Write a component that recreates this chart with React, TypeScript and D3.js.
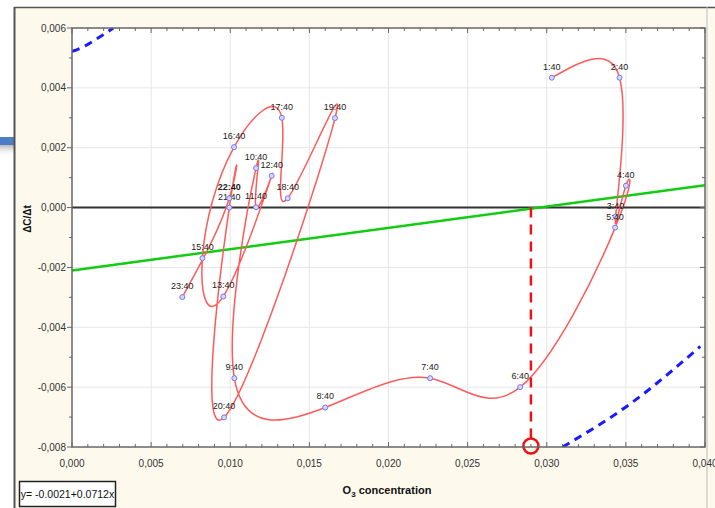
import * as d3 from 'd3';

// trajectory (hourly samples), O3 concentration vs dC/dt
const times = ['1:40', '2:40', '3:40', '4:40', '5:40', '6:40', '7:40', '8:40', '9:40', '10:40', '11:40', '12:40',
  '13:40', '15:40', '16:40', '17:40', '18:40', '19:40', '20:40', '21:40', '22:40', '23:40'];
const conc = [0.03032, 0.0346, 0.03435, 0.035, 0.03432, 0.02832, 0.02263, 0.016, 0.01026, 0.01163, 0.01163, 0.01262,
  0.00956, 0.00824, 0.01024, 0.01326, 0.01363, 0.01662, 0.00961, 0.00994, 0.00994, 0.00697];
const rate = [0.00434, 0.00434, -0.0003, 0.00073, -0.00067, -0.006, -0.0057, -0.00668, -0.0057, 0.00132, 0.00001, 0.00106,
  -0.00297, -0.00169, 0.00202, 0.003, 0.00031, 0.00299, -0.00701, 0.0, 0.00031, -0.00299];

// confidence band pieces (blue dashed)
const bandTopX = [0.0, 0.0003, 0.00177, 0.00261];
const bandTopY = [0.00522, 0.00527, 0.00571, 0.006];
const bandBotX = [0.031, 0.03527, 0.0397];
const bandBotY = [-0.008, -0.00656, -0.00464];

// regression y = a + b x
const intercept = -0.0021;
const slope = 0.0712;
const crossX = 0.029;

const xTicks = [0, 0.005, 0.01, 0.015, 0.02, 0.025, 0.03, 0.035, 0.04];
const yTicks = [-0.008, -0.006, -0.004, -0.002, 0, 0.002, 0.004, 0.006];

const W = 715;
const H = 508;

export default function App() {
  const x = d3.scaleLinear().domain([0, 0.04]).range([72, 705]);
  const y = d3.scaleLinear().domain([-0.008, 0.006]).range([447, 28]);
  const fmt = (v: number) => d3.format('.3f')(v).replace('.', ',').replace('−', '-');

  const pts = conc.map((c, i) => [x(c), y(rate[i])] as [number, number]);
  const traj = d3.line().curve(d3.curveNatural)(pts) || '';
  const band = d3.line().curve(d3.curveMonotoneX);
  const top = band(bandTopX.map((v, i) => [x(v), y(bandTopY[i])] as [number, number])) || '';
  const bot = band(bandBotX.map((v, i) => [x(v), y(bandBotY[i])] as [number, number])) || '';

  const minorX = d3.range(0, 41).map(i => i * 0.001);
  const minorY = d3.range(-8, 7).map(i => i * 0.001);
  const [x0, x1] = x.range();
  const [y0, y1] = y.range();
  const font = 'Liberation Sans, Arial, sans-serif';

  return (
    <svg width={W} height={H} style={{ position: 'absolute', left: 0, top: 0 }} fontFamily={font}>
      <defs>
        <linearGradient id="shadow" x1="0" y1="0" x2="0" y2="1">
          <stop offset="0%" stopColor="#888" stopOpacity={0.6} />
          <stop offset="100%" stopColor="#fff" stopOpacity={0} />
        </linearGradient>
        <clipPath id="plot">
          <rect x={x0} y={y1} width={x1 - x0} height={y0 - y1} />
        </clipPath>
      </defs>
      <rect width={W} height={H} fill="#fff" />
      {/* arrow stub on the left */}
      <rect x={0} y={145} width={14} height={12} fill="url(#shadow)" />
      <rect x={0} y={137} width={14} height={8} fill="#4a7fc8" />
      {/* panel */}
      <rect x={14} y={7} width={W - 14} height={H - 7} fill="#fdf9ed" />
      <line x1={14.5} y1={7} x2={14.5} y2={H} stroke="#555" strokeWidth={2} />
      <line x1={14} y1={7.5} x2={W} y2={7.5} stroke="#555" strokeWidth={1.5} />
      <line x1={707} y1={7} x2={707} y2={H} stroke="#bbb" strokeWidth={1} />

      <rect x={x0} y={y1} width={x1 - x0} height={y0 - y1} fill="#fff" />
      {/* grid */}
      {xTicks.slice(1, -1).map(t => (
        <line key={'gx' + t} x1={x(t)} x2={x(t)} y1={y1} y2={y0} stroke="#e6e6e6" strokeWidth={1} />
      ))}
      {yTicks.slice(1, -1).map(t => (
        <line key={'gy' + t} x1={x0} x2={x1} y1={y(t)} y2={y(t)} stroke="#e6e6e6" strokeWidth={1} />
      ))}

      <g clipPath="url(#plot)">
        <path d={top} fill="none" stroke="#1a1aff" strokeWidth={3} strokeDasharray="8 6" />
        <path d={bot} fill="none" stroke="#1a1aff" strokeWidth={3} strokeDasharray="8 6" />
        <line x1={x0} x2={x1} y1={y(0)} y2={y(0)} stroke="#333" strokeWidth={2} />
        <line x1={x(0)} x2={x(0.04)} y1={y(intercept)} y2={y(intercept + slope * 0.04)} stroke="#11cc11" strokeWidth={2.5} />
        <path d={traj} fill="none" stroke="#ff5a5a" strokeWidth={1.5} />
        <line x1={x(crossX)} x2={x(crossX)} y1={y(0)} y2={y0 - 8} stroke="#ee1111" strokeWidth={2.5} strokeDasharray="10 7" />
      </g>
      <circle cx={x(crossX)} cy={y0 - 1} r={7.5} fill="none" stroke="#ee1111" strokeWidth={2.5} />

      {pts.map((p, i) => (
        <g key={times[i]}>
          <circle cx={p[0]} cy={p[1]} r={2.5} fill="#d8d8ff" stroke="#7777ee" strokeWidth={1} />
          <text x={p[0]} y={p[1] - 8} fontSize={9} fill="#222" textAnchor="middle"
            fontWeight={times[i] === '22:40' ? 'bold' : 'normal'}>{times[i]}</text>
        </g>
      ))}

      {/* frame */}
      <rect x={x0} y={y1} width={x1 - x0} height={y0 - y1} fill="none" stroke="#666" strokeWidth={1.5} />
      {minorX.map(t => {
        const len = Math.abs(t * 1000 % 5) < 1e-6 ? 5 : 3;
        return (
          <g key={'mx' + t}>
            <line x1={x(t)} x2={x(t)} y1={y0} y2={y0 - len} stroke="#666" />
            <line x1={x(t)} x2={x(t)} y1={y1} y2={y1 + len} stroke="#666" />
          </g>
        );
      })}
      {minorY.map(t => {
        const len = Math.abs(t * 1000 % 2) < 1e-6 ? 5 : 3;
        return (
          <g key={'my' + t}>
            <line x1={x0} x2={x0 - len} y1={y(t)} y2={y(t)} stroke="#666" />
            <line x1={x1} x2={x1 - len} y1={y(t)} y2={y(t)} stroke="#666" />
          </g>
        );
      })}
      {xTicks.map(t => (
        <text key={'xl' + t} x={x(t)} y={y0 + 20} fontSize={10} fill="#333" textAnchor="middle">{fmt(t)}</text>
      ))}
      {yTicks.map(t => (
        <text key={'yl' + t} x={x0 - 6} y={y(t) + 3.5} fontSize={10} fill="#333" textAnchor="end">{fmt(t)}</text>
      ))}

      <text x={387} y={494} fontSize={11} fontWeight="bold" fill="#111" textAnchor="middle">
        O<tspan fontSize={8} dy={3}>3</tspan><tspan dy={-3}> concentration</tspan>
      </text>
      <text transform="translate(31,219) rotate(-90)" fontSize={10} fontWeight="bold" fill="#111" textAnchor="middle">ΔC/Δt</text>

      <rect x={19.5} y={481.5} width={96} height={25} fill="#fff" stroke="#222" strokeWidth={1.5} />
      <text x={67.5} y={498} fontSize={10.5} fill="#111" textAnchor="middle">y= -0.0021+0.0712x</text>
    </svg>
  );
}
